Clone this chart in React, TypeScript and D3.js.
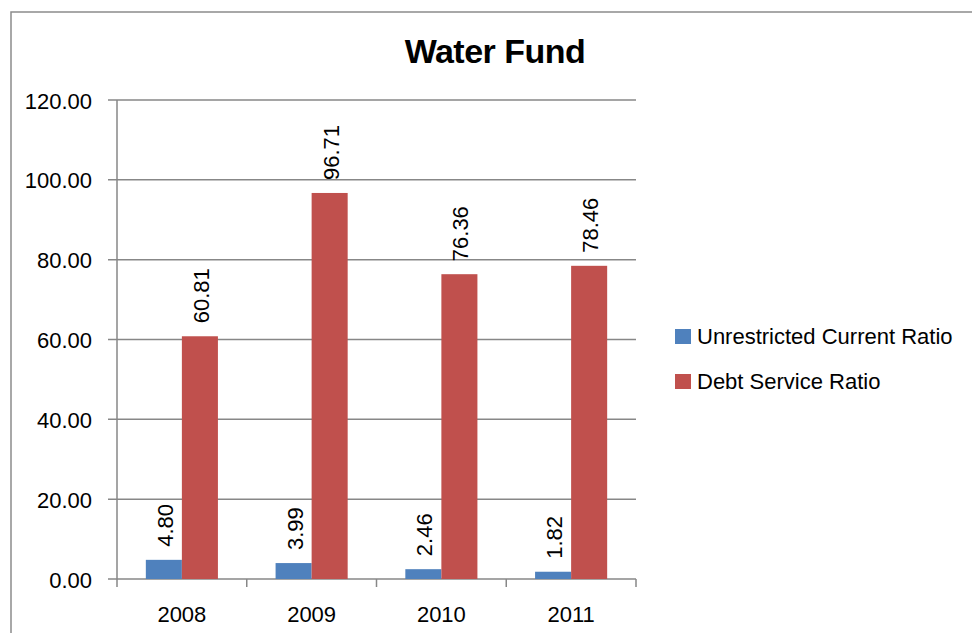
import React from "react";
import * as d3 from "d3";

const categories = ["2008", "2009", "2010", "2011"];
const seriesNames = ["Unrestricted Current Ratio", "Debt Service Ratio"];
const unrestrictedCurrent = [4.8, 3.99, 2.46, 1.82];
const debtService = [60.81, 96.71, 76.36, 78.46];
const yTicks = [0, 20, 40, 60, 80, 100, 120];
const colors = ["#4F81BD", "#C0504D"];

const W = 972;
const H = 633;
const FONT = "'Liberation Sans', Arial, sans-serif";

export default function App() {
  const seriesValues = [unrestrictedCurrent, debtService];
  const x0 = d3.scaleBand<string>().domain(categories).range([117, 636]).padding(0);
  const x1 = d3
    .scaleBand<string>()
    .domain(seriesNames)
    .range([0, x0.bandwidth()])
    .paddingInner(0)
    .paddingOuter(0.8);
  const y = d3.scaleLinear().domain([0, 120]).range([579, 100]);
  const gridColor = "#878787";

  return (
    <div style={{ position: "fixed", left: 0, top: 0, width: W, height: H, background: "#fff" }}>
      <svg width={W} height={H} style={{ display: "block" }}>
        <rect x={0} y={0} width={W} height={H} fill="#fff" />
        {/* outer frame */}
        <path d={`M11,${H + 5} L11,12 L${W + 5},12`} fill="none" stroke="#8c8c8c" strokeWidth={1.5} />
        {/* title */}
        <text
          x={495}
          y={63}
          textAnchor="middle"
          fontFamily={FONT}
          fontWeight="bold"
          fontSize={34}
          letterSpacing={-0.5}
          fill="#000"
        >
          Water Fund
        </text>
        {/* gridlines + y ticks */}
        {yTicks.map((t) => (
          <g key={t}>
            <line x1={108} x2={636} y1={y(t)} y2={y(t)} stroke={gridColor} strokeWidth={1.5} />
            <text
              x={92}
              y={y(t) + 8.5}
              textAnchor="end"
              fontFamily={FONT}
              fontSize={22}
              fill="#000"
            >
              {t.toFixed(2)}
            </text>
          </g>
        ))}
        {/* y axis */}
        <line x1={117} x2={117} y1={y(120)} y2={y(0)} stroke={gridColor} strokeWidth={1.5} />
        {/* category ticks */}
        {[...categories.map((c) => x0(c)!), 636].map((xv, i) => (
          <line key={i} x1={xv} x2={xv} y1={y(0)} y2={y(0) + 8} stroke={gridColor} strokeWidth={1.5} />
        ))}
        {/* bars */}
        {categories.map((c, ci) => (
          <g key={c} transform={`translate(${x0(c)},0)`}>
            {seriesNames.map((s, si) => {
              const v = seriesValues[si][ci];
              const bx = x1(s)!;
              const bw = x1.bandwidth();
              const cx = bx + bw / 2;
              return (
                <g key={s}>
                  <rect x={bx} y={y(v)} width={bw} height={y(0) - y(v)} fill={colors[si]} />
                  <text
                    transform={`translate(${cx + 9},${y(v) - 13}) rotate(-90)`}
                    fontFamily={FONT}
                    fontSize={22}
                    fill="#000"
                  >
                    {v.toFixed(2)}
                  </text>
                </g>
              );
            })}
            <text
              x={x0.bandwidth() / 2}
              y={622}
              textAnchor="middle"
              fontFamily={FONT}
              fontSize={22}
              fill="#000"
            >
              {c}
            </text>
          </g>
        ))}
        {/* legend */}
        {seriesNames.map((s, i) => (
          <g key={s} transform={`translate(675,${329 + i * 45})`}>
            <rect x={0} y={0} width={16} height={15} fill={colors[i]} />
            <text x={22} y={15} fontFamily={FONT} fontSize={22} fill="#000">
              {s}
            </text>
          </g>
        ))}
      </svg>
    </div>
  );
}
